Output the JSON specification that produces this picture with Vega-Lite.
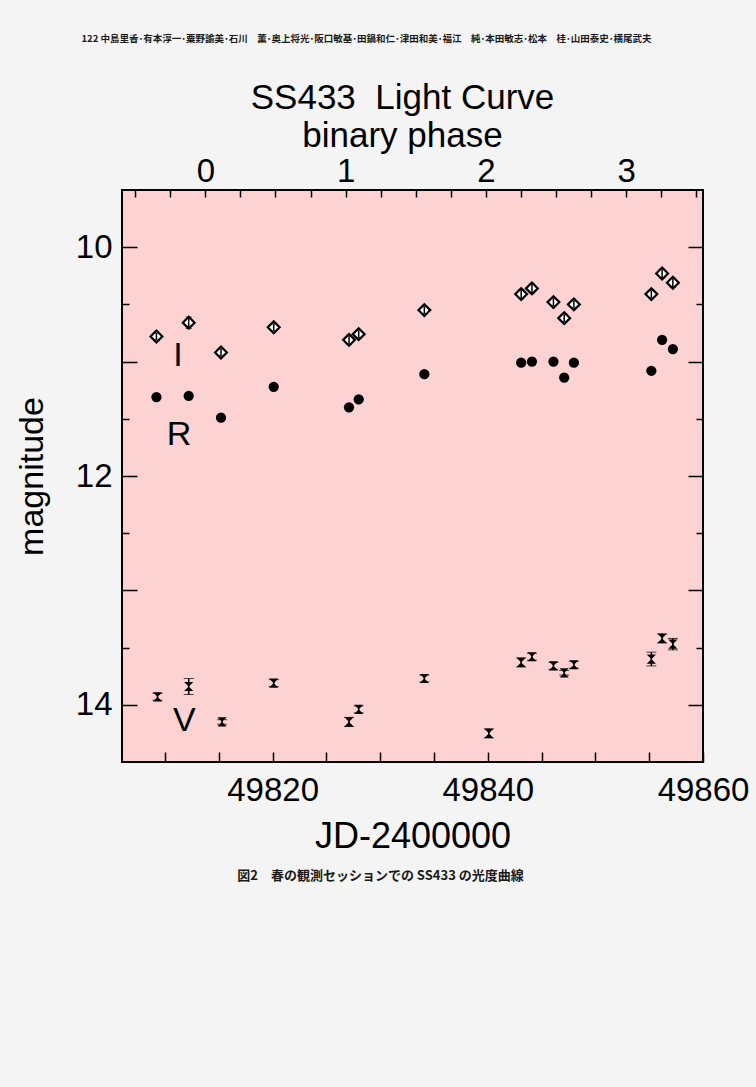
{
  "$schema": "https://vega.github.io/schema/vega-lite/v6.json",
  "width": 581,
  "height": 572,
  "autosize": {"type": "none"},
  "padding": {"left": 122, "top": 190, "right": 53, "bottom": 325},
  "background": "#f4f4f4",
  "config": {
    "font": "Liberation Sans",
    "view": {"fill": "#fcd2d2", "stroke": "#000000", "strokeWidth": 2},
    "axis": {"grid": false, "domain": false, "tickColor": "#000000", "tickWidth": 1.5, "labelColor": "#000000", "titleColor": "#000000", "labelFont": "Liberation Sans", "titleFont": "Liberation Sans", "titleFontWeight": "normal", "labelFlush": false, "labelOverlap": false}
  },
  "title": {
    "text": "122 中島里香･有本淳一･粟野諭美･石川　薫･奥上将光･阪口敏基･田鍋和仁･津田和美･福江　純･本田敏志･松本　桂･山田泰史･横尾武夫",
    "font": "Noto Sans CJK JP",
    "fontSize": 9.5,
    "fontWeight": "bold",
    "color": "#1a1a1a",
    "anchor": "middle",
    "dx": -46,
    "offset": 37
  },
  "datasets": {
    "I": [
      {"jd": 49809.2, "mag": 10.78, "err": 0.03},
      {"jd": 49812.2, "mag": 10.66, "err": 0.05},
      {"jd": 49815.2, "mag": 10.92, "err": 0.03},
      {"jd": 49820.1, "mag": 10.70, "err": 0.03},
      {"jd": 49827.1, "mag": 10.81, "err": 0.04},
      {"jd": 49828.0, "mag": 10.76, "err": 0.03},
      {"jd": 49834.1, "mag": 10.55, "err": 0.03},
      {"jd": 49843.1, "mag": 10.41, "err": 0.04},
      {"jd": 49844.1, "mag": 10.36, "err": 0.04},
      {"jd": 49846.1, "mag": 10.48, "err": 0.03},
      {"jd": 49847.1, "mag": 10.62, "err": 0.03},
      {"jd": 49848.0, "mag": 10.50, "err": 0.03},
      {"jd": 49855.2, "mag": 10.41, "err": 0.03},
      {"jd": 49856.2, "mag": 10.23, "err": 0.04},
      {"jd": 49857.2, "mag": 10.31, "err": 0.04}
    ],
    "R": [
      {"jd": 49809.2, "mag": 11.31},
      {"jd": 49812.2, "mag": 11.30},
      {"jd": 49815.2, "mag": 11.49},
      {"jd": 49820.1, "mag": 11.22},
      {"jd": 49827.1, "mag": 11.40},
      {"jd": 49828.0, "mag": 11.33},
      {"jd": 49834.1, "mag": 11.11},
      {"jd": 49843.1, "mag": 11.01},
      {"jd": 49844.1, "mag": 11.00},
      {"jd": 49846.1, "mag": 11.00},
      {"jd": 49847.1, "mag": 11.14},
      {"jd": 49848.0, "mag": 11.01},
      {"jd": 49855.2, "mag": 11.08},
      {"jd": 49856.2, "mag": 10.81},
      {"jd": 49857.2, "mag": 10.89}
    ],
    "V": [
      {"jd": 49809.3, "mag": 13.93, "err": 0.03},
      {"jd": 49812.2, "mag": 13.84, "err": 0.07},
      {"jd": 49815.3, "mag": 14.15, "err": 0.02},
      {"jd": 49820.1, "mag": 13.81, "err": 0.03},
      {"jd": 49827.1, "mag": 14.15, "err": 0.04},
      {"jd": 49828.0, "mag": 14.04, "err": 0.03},
      {"jd": 49834.1, "mag": 13.77, "err": 0.03},
      {"jd": 49840.1, "mag": 14.25, "err": 0.04},
      {"jd": 49843.1, "mag": 13.63, "err": 0.04},
      {"jd": 49844.1, "mag": 13.58, "err": 0.03},
      {"jd": 49846.1, "mag": 13.66, "err": 0.03},
      {"jd": 49847.1, "mag": 13.72, "err": 0.02},
      {"jd": 49848.0, "mag": 13.65, "err": 0.03},
      {"jd": 49855.2, "mag": 13.60, "err": 0.06},
      {"jd": 49856.2, "mag": 13.42, "err": 0.04},
      {"jd": 49857.2, "mag": 13.47, "err": 0.05}
    ],
    "labels": [
      {"jd": 49811.2, "mag": 10.95, "band": "I"},
      {"jd": 49811.3, "mag": 11.64, "band": "R"},
      {"jd": 49811.8, "mag": 14.14, "band": "V"}
    ]
  },
  "layer": [
    {
      "encoding": {
        "x": {
          "field": "jd", "type": "quantitative",
          "scale": {"domain": [49806, 49860], "nice": false, "zero": false},
          "axis": {
            "orient": "bottom",
            "values": [49810, 49815, 49820, 49825, 49830, 49835, 49840, 49845, 49850, 49855, 49860],
            "labelExpr": "datum.value % 20 === 0 ? toString(datum.value) : ''",
            "tickSize": -10,
            "labelPadding": 22,
            "labelFontSize": 33,
            "title": "JD-2400000",
            "titleFontSize": 36,
            "titlePadding": 12
          }
        },
        "y": {
          "field": "mag", "type": "quantitative",
          "scale": {"domain": [9.5, 14.5], "reverse": true, "nice": false, "zero": false},
          "axis": {
            "orient": "left",
            "values": [10, 10.5, 11, 11.5, 12, 12.5, 13, 13.5, 14],
            "labelExpr": "datum.value % 2 === 0 ? toString(datum.value) : ''",
            "tickSize": {"condition": {"test": "datum.value % 1 === 0", "value": -15}, "value": -7},
            "labelPadding": 25,
            "labelFontSize": 33,
            "title": "magnitude",
            "titleFontSize": 34,
            "titlePadding": 26
          }
        }
      },
      "layer": [
        {
          "data": {"name": "I"},
          "mark": {"type": "point", "shape": "diamond", "size": 140, "filled": true, "fill": "#ffffff", "stroke": "#000000", "strokeWidth": 2.2, "opacity": 1}
        },
        {
          "data": {"name": "I"},
          "mark": {"type": "errorbar", "ticks": {"size": 6, "color": "#000000"}, "rule": {"color": "#000000", "strokeWidth": 1.5}},
          "encoding": {"yError": {"field": "err"}}
        },
        {
          "data": {"name": "R"},
          "mark": {"type": "point", "shape": "circle", "size": 105, "filled": true, "color": "#000000", "opacity": 1}
        },
        {
          "data": {"name": "V"},
          "mark": {"type": "errorbar", "ticks": {"size": 10, "color": "#000000", "strokeWidth": 2}, "rule": {"color": "#000000", "strokeWidth": 1.5}},
          "encoding": {"yError": {"field": "err"}}
        },
        {
          "data": {"name": "V"},
          "mark": {"type": "point", "shape": "M-1,-1L1,-1L-1,1L1,1Z", "size": 85, "filled": true, "color": "#000000", "opacity": 1}
        },
        {
          "data": {"name": "labels"},
          "mark": {"type": "text", "font": "Liberation Sans", "fontSize": 34, "align": "center", "baseline": "middle", "color": "#000000"},
          "encoding": {"text": {"field": "band"}}
        }
      ]
    },
    {
      "data": {"values": [{"phase": 0}, {"phase": 3}]},
      "mark": {"type": "point", "opacity": 0},
      "encoding": {
        "x": {
          "field": "phase", "type": "quantitative",
          "scale": {"domain": [-0.594, 3.547], "nice": false, "zero": false},
          "axis": {
            "orient": "top",
            "values": [-0.5, -0.25, 0, 0.25, 0.5, 0.75, 1, 1.25, 1.5, 1.75, 2, 2.25, 2.5, 2.75, 3, 3.25, 3.5],
            "labelExpr": "datum.value % 1 === 0 ? toString(datum.value) : ''",
            "tickSize": -7,
            "labelPadding": 9,
            "labelFontSize": 33,
            "title": ["SS433\u00a0\u00a0Light Curve", "binary phase"],
            "titleFontSize": 35,
            "titleLineHeight": 38,
            "titlePadding": 2,
            "titleX": 280,
            "titleAlign": "center"
          }
        }
      }
    },
    {
      "data": {"values": [{"mag": 10}, {"mag": 14}]},
      "mark": {"type": "point", "opacity": 0},
      "encoding": {
        "y": {
          "field": "mag", "type": "quantitative",
          "scale": {"domain": [9.5, 14.5], "reverse": true, "nice": false, "zero": false},
          "axis": {
            "orient": "right",
            "values": [10, 10.5, 11, 11.5, 12, 12.5, 13, 13.5, 14],
            "labels": false,
            "tickSize": {"condition": {"test": "datum.value % 1 === 0", "value": -15}, "value": -7},
            "title": null
          }
        }
      }
    },
    {
      "data": {"values": [{"jd": 49830}]},
      "mark": {"type": "point", "opacity": 0},
      "encoding": {
        "x": {
          "field": "jd", "type": "quantitative",
          "scale": {"domain": [49806, 49860], "nice": false, "zero": false},
          "axis": {
            "orient": "bottom",
            "labels": false,
            "ticks": false,
            "title": "図2　春の観測セッションでの SS433 の光度曲線",
            "titleFont": "Noto Sans CJK JP",
            "titleFontSize": 13,
            "titleFontWeight": "bold",
            "titleColor": "#1a1a1a",
            "titleX": 258,
            "titleAlign": "center",
            "titlePadding": 107
          }
        }
      }
    }
  ],
  "resolve": {"scale": {"x": "independent", "y": "independent"}, "axis": {"x": "independent", "y": "independent"}}
}
